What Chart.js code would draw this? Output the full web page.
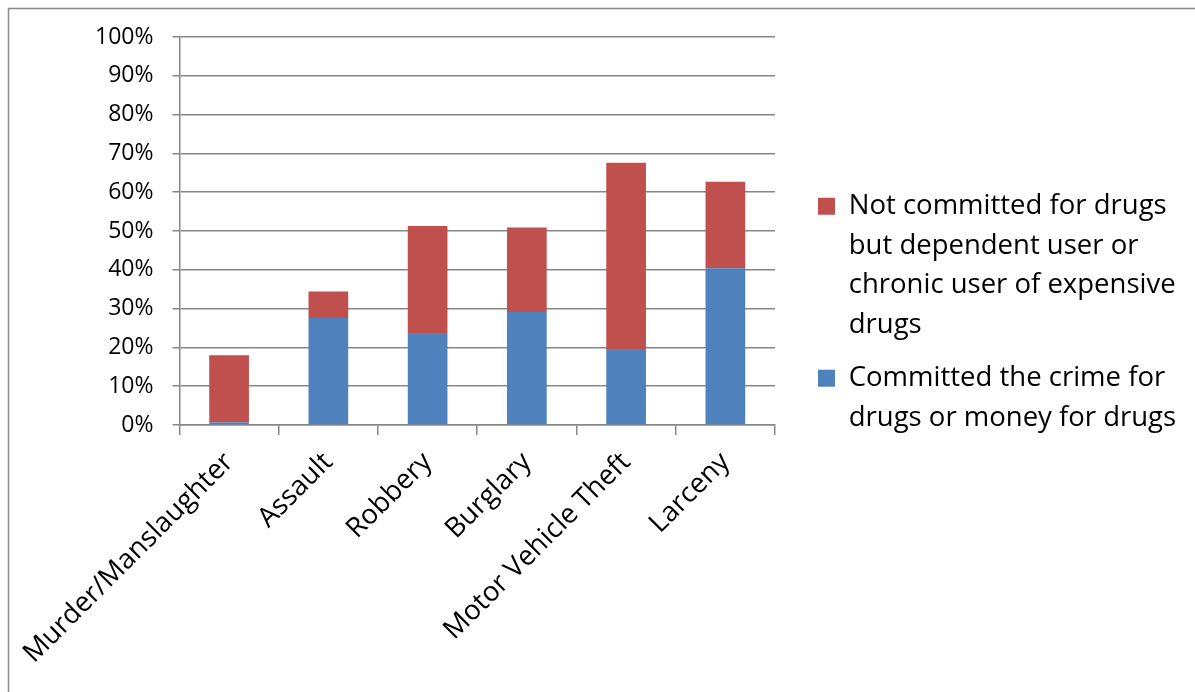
<!DOCTYPE html>
<html>
<head>
<meta charset="utf-8">
<script src="https://cdn.jsdelivr.net/npm/chart.js@4/dist/chart.umd.min.js"></script>
<style>
html,body{margin:0;padding:0;background:#fff;}
#wrap{position:absolute;left:0;top:0;width:1195px;height:692px;}
</style>
</head>
<body>
<div id="wrap"><canvas id="c" width="1195" height="692"></canvas></div>
<script>
const categories = ['Murder/Manslaughter', 'Assault', 'Robbery', 'Burglary', 'Motor Vehicle Theft', 'Larceny'];
const committedForDrugs = [0.7, 27.6, 23.7, 29.1, 19.6, 40.4];
const dependentUser = [17.3, 6.8, 27.6, 21.8, 48.0, 22.3];
const legendDependent = ['Not committed for drugs', 'but dependent user or', 'chronic user of expensive', 'drugs'];
const legendCommitted = ['Committed the crime for', 'drugs or money for drugs'];
const yMin = 0, yMax = 100, yStep = 10;

const FONT = "'Open Sans', 'DejaVu Sans', sans-serif";
const GRID = '#878787';
const SPACER = 29;
const LEGEND_W = 381;
const X_AXIS_H = 267;

const framePlugin = {
  id: 'frame',
  beforeDraw(chart) {
    const ctx = chart.ctx;
    ctx.save();
    ctx.fillStyle = '#fff';
    ctx.fillRect(0, 0, chart.width, chart.height);
    ctx.strokeStyle = '#8a8a8a';
    ctx.lineWidth = 1.5;
    ctx.beginPath();
    ctx.moveTo(8.5, chart.height);
    ctx.lineTo(8.5, 8.5);
    ctx.lineTo(chart.width, 8.5);
    ctx.stroke();
    ctx.restore();
  }
};

const layoutPlugin = {
  id: 'layoutTweak',
  beforeInit(chart) {
    const box = {
      position: 'right', weight: 500, fullSize: false, options: {},
      left: 0, top: 0, right: 0, bottom: 0, width: 0, height: 0,
      isHorizontal() { return false; },
      update(maxWidth, maxHeight) { this.width = SPACER; this.height = maxHeight; },
      draw() {}
    };
    Chart.layouts.addBox(chart, box);
  },
  beforeLayout(chart) {
    const lg = chart.legend;
    if (lg && !lg._patched) {
      const orig = lg.update;
      lg.update = function(maxWidth, maxHeight, margins) {
        const r = orig.call(this, 600, maxHeight, margins);
        this.width = LEGEND_W;
        return r;
      };
      lg._patched = true;
    }
  }
};

new Chart(document.getElementById('c'), {
  type: 'bar',
  data: {
    labels: categories,
    datasets: [
      {
        label: 'Committed the crime for drugs or money for drugs',
        data: committedForDrugs,
        backgroundColor: '#4F81BD',
        barPercentage: 0.4,
        categoryPercentage: 1.0
      },
      {
        label: 'Not committed for drugs but dependent user or chronic user of expensive drugs',
        data: dependentUser,
        backgroundColor: '#C0504D',
        barPercentage: 0.4,
        categoryPercentage: 1.0
      }
    ]
  },
  options: {
    responsive: false,
    animation: false,
    layout: { padding: { left: 76, top: 37, right: 10, bottom: 0 } },
    plugins: {
      tooltip: { enabled: false },
      legend: {
        position: 'right',
        align: 'start',
        reverse: true,
        title: { display: true, text: '', font: { size: 10, lineHeight: 1 }, padding: { top: 131.5, bottom: 0 } },
        labels: {
          boxWidth: 17,
          boxHeight: 17,
          padding: 14,
          color: '#000',
          font: { family: FONT, size: 27.5, lineHeight: 1.436 },
          generateLabels(chart) {
            const items = Chart.defaults.plugins.legend.labels.generateLabels(chart);
            items.forEach(it => {
              it.text = it.datasetIndex === 0 ? legendCommitted : legendDependent;
              it.lineWidth = 0;
            });
            return items;
          }
        }
      }
    },
    scales: {
      x: {
        stacked: true,
        afterFit(scale) {
          scale.paddingLeft = 0;
          scale.paddingRight = 0;
          scale.height = X_AXIS_H;
        },
        grid: { display: true, drawOnChartArea: false, drawTicks: true, tickLength: 10, color: GRID, lineWidth: 1.5 },
        border: { display: true, color: GRID, width: 1.5 },
        ticks: {
          autoSkip: false, minRotation: 45, maxRotation: 45, padding: 11,
          color: '#000', font: { family: FONT, size: 27.5 }
        }
      },
      y: {
        stacked: true,
        min: yMin, max: yMax,
        grid: { color: GRID, lineWidth: 1.5, tickLength: 7 },
        border: { display: true, color: GRID, width: 1.5 },
        ticks: {
          stepSize: yStep, padding: 19, color: '#000',
          font: { family: FONT, size: 23 },
          callback: v => v + '%'
        }
      }
    }
  },
  plugins: [framePlugin, layoutPlugin]
});
</script>
</body>
</html>
